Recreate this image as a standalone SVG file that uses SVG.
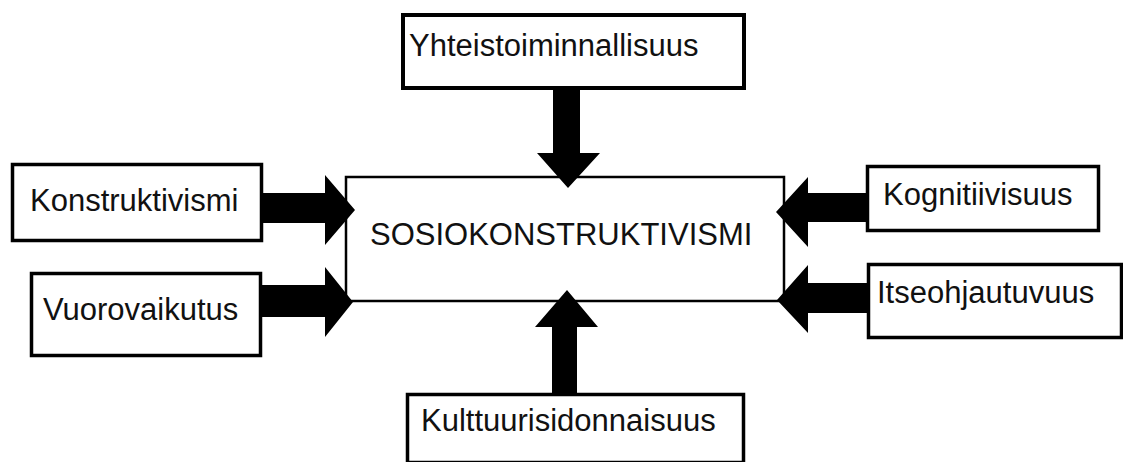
<svg xmlns="http://www.w3.org/2000/svg" width="1123" height="462" viewBox="0 0 1123 462">
<style>
.box{fill:#fff;stroke:#000;stroke-width:3.5}
.main{fill:#fff;stroke:#000;stroke-width:2.5}
.lbl{font-family:"Liberation Sans",Arial,sans-serif;font-size:31px;fill:#111}
.arr{fill:#000}
</style>
<rect width="1123" height="462" fill="#fff"/>
<g id="n-sosio">
<rect class="main" x="346" y="177" width="438" height="124"/>
<text class="lbl" x="370" y="245">SOSIOKONSTRUKTIVISMI</text>
</g>
<g id="n-yhteis">
<rect class="box" x="403" y="15" width="341" height="73" style="stroke-width:4"/>
<text class="lbl" x="409" y="56">Yhteistoiminnallisuus</text>
</g>
<g id="n-konstr">
<rect class="box" x="12.5" y="164.5" width="249" height="76"/>
<text class="lbl" x="30" y="211">Konstruktivismi</text>
</g>
<g id="n-vuoro">
<rect class="box" x="31.5" y="273.5" width="229" height="82"/>
<text class="lbl" x="43" y="320">Vuorovaikutus</text>
</g>
<g id="n-kogn">
<rect class="box" x="867.5" y="166.5" width="231" height="64"/>
<text class="lbl" x="883" y="205">Kognitiivisuus</text>
</g>
<g id="n-itse">
<rect class="box" x="868.5" y="264.5" width="253" height="73"/>
<text class="lbl" x="877" y="303">Itseohjautuvuus</text>
</g>
<g id="n-kult">
<rect class="box" x="407.5" y="394.5" width="336" height="68"/>
<text class="lbl" x="421" y="431">Kulttuurisidonnaisuus</text>
</g>
<g id="connectors">
<polygon class="arr" points="553,88 580,88 580,153 600,153 568,188 537,153 553,153"/>
<polygon class="arr" points="552,395 577,395 577,327 598,327 567,290 535,327 552,327"/>
<polygon class="arr" points="263,193 325,193 325,175 355,210 325,245 325,223 263,223"/>
<polygon class="arr" points="262,285 325,285 325,267 353,302 325,337 325,317 262,317"/>
<polygon class="arr" points="866,193 808,193 808,177 776,212 808,247 808,222 866,222"/>
<polygon class="arr" points="867,283 808,283 808,265 777,300 808,333 808,313 867,313"/>
</g>
</svg>
